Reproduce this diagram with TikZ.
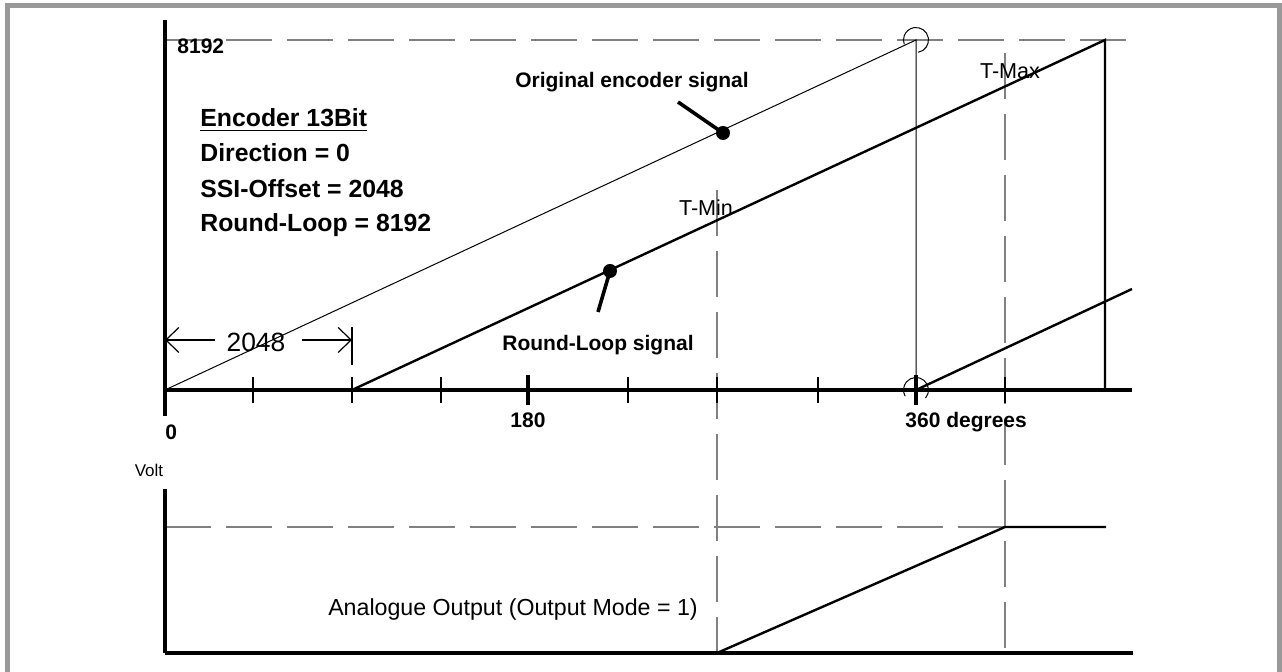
\documentclass[tikz,border=0pt]{standalone}
\usepackage{fontspec}
\setmainfont{Liberation Sans}
\usetikzlibrary{arrows.meta}

\begin{document}
\begin{tikzpicture}[x=0.5pt,y=-0.5pt,
    axis/.style={line width=2pt},
    guide/.style={draw=gray,line width=0.6pt,dash pattern=on 23pt off 7.5pt},
    sig/.style={line width=1.2pt},
    thin/.style={line width=0.5pt},
    bold/.style={font=\fontsize{10.5}{12}\selectfont\bfseries},
    info/.style={font=\fontsize{12.4}{14}\selectfont\bfseries,anchor=west,inner sep=0pt},
    plain/.style={font=\fontsize{10.8}{12}\selectfont},
    dim/.style={line width=0.6pt,-{Straight Barb[length=6.5pt,width=12.5pt]}}]
    \useasboundingbox (0,0) rectangle (1282,672);
    \draw[draw=black!40,line width=2.5pt] (7.5,672) -- (7.5,5.5) -- (1279.5,5.5) -- (1279.5,672);

    \coordinate (O) at (165,390);
    \coordinate (top) at (916,40);
    \coordinate (wrap) at (916,390);
    \coordinate (start) at (352,390);
    \coordinate (peak) at (1105,40);
    \coordinate (B) at (165,653);

    \draw[guide] (165,40) -- (1132,40);
    \draw[guide] (165,527) -- (1005,527);
    \draw[guide] (717,190) -- (717,653);
    \draw[guide] (1005,53) -- (1005,653);

    \draw[axis] (165,20) -- (165,416);
    \draw[axis] (O) -- (1132,390);
    \foreach \x in {253,352,441,628,717,818,1005}
      \draw[line width=0.7pt] (\x,377) -- (\x,403);
    \foreach \x in {528,916}
      \draw[line width=1.8pt] (\x,375) -- (\x,405);

    \draw[thin] (O) -- (top) -- (wrap);
    \draw[sig] (start) -- (peak) -- (1105,390);
    \draw[sig] (wrap) -- (1132,289);
    \draw[thin] (top) ++(-80:6.25pt) arc[start angle=-80,end angle=200,radius=6.25pt];
    \draw[thin] (wrap) ++(-40:6.25pt) arc[start angle=-40,end angle=210,radius=6.25pt];

    \fill (723,133) circle (3.5pt);
    \fill (610,271) circle (3.5pt);
    \draw[line width=1.8pt] (678,102) -- (723,133);
    \draw[line width=1.8pt] (598,312) -- (610,271);

    \draw[dim] (215,340) -- (165,340);
    \draw[dim] (302,340) -- (352,340);
    \draw[line width=0.6pt] (352,327) -- (352,365);
    \node[font=\fontsize{13.2}{15}\selectfont] (off) at (256,342) {2048};

    \draw[axis] (165,489) -- (B);
    \draw[axis] (B) -- (1133,653);
    \draw[sig] (717,653) -- (1005,527) -- (1106,527);

    \node[bold,anchor=west,inner sep=0pt] (max) at (177,46) {8192};
    \node[info] (enc) at (200,120) {\underline{Encoder 13Bit}};
    \node[info] (dir) at (200,153) {Direction = 0};
    \node[info] (ssi) at (200,189) {SSI-Offset = 2048};
    \node[info] (loop) at (200,225) {Round-Loop = 8192};
    \node[bold] (orig) at (632,82) {Original encoder signal};
    \node[bold] (rls) at (598,345) {Round-Loop signal};
    \node[plain] (tmin) at (706,208) {T-Min};
    \node[plain] (tmax) at (1010,71) {T-Max};
    \node[bold,anchor=base west,inner sep=0pt] (zero) at (165,440) {0};
    \node[bold,anchor=base] (half) at (528,428) {180};
    \node[bold,anchor=base west,inner sep=0pt] (full) at (905,428) {360 degrees};
    \node[font=\fontsize{8.5}{10}\selectfont] (volt) at (149,470) {Volt};
    \node[font=\fontsize{11.6}{13}\selectfont] (out) at (513,610) {Analogue Output (Output Mode = 1)};
\end{tikzpicture}
\end{document}
